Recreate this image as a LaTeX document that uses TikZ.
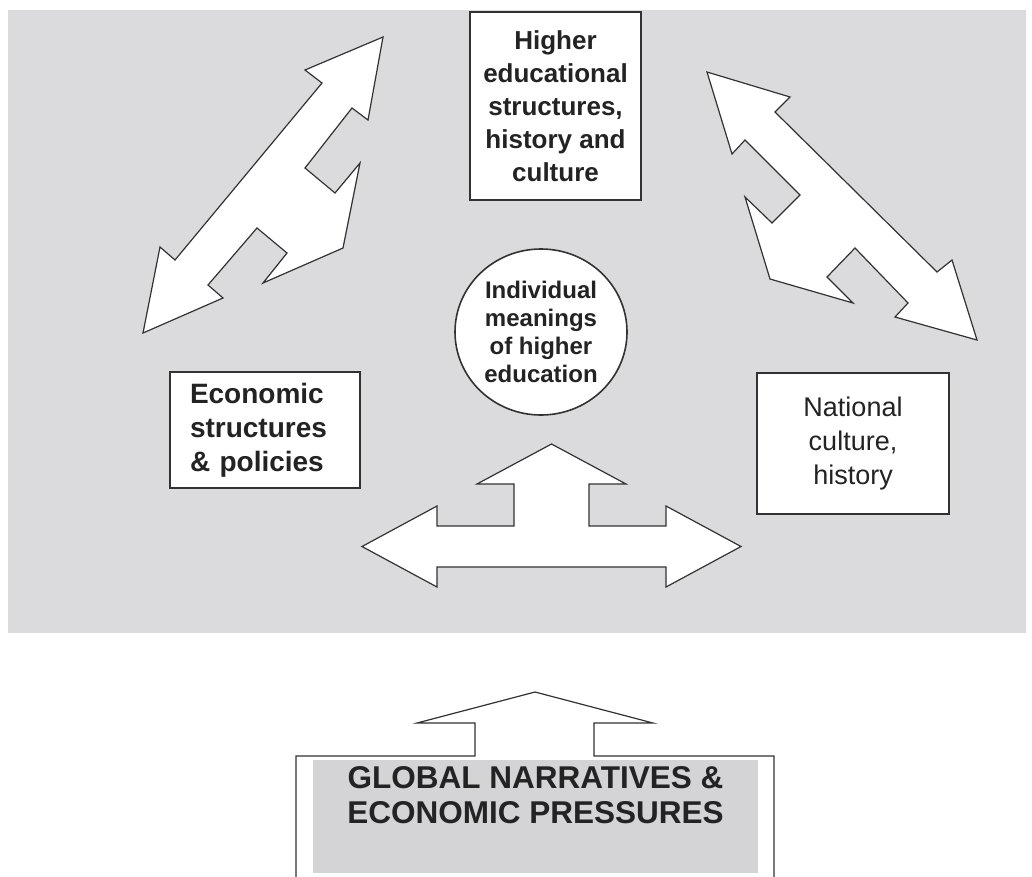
\documentclass[tikz,border=0pt]{standalone}
\usepackage{fontspec}
\setmainfont{Liberation Sans}
\usetikzlibrary{shapes.geometric}
\definecolor{panel}{RGB}{219,219,221}
\definecolor{panelb}{RGB}{212,212,214}
\definecolor{ink}{RGB}{35,35,35}
\definecolor{edge}{RGB}{50,50,50}

\begin{document}
\begin{tikzpicture}[x=1pt,y=-1pt,
  box/.style={draw=edge, line width=1.6pt, fill=white, text=ink, inner sep=0pt, align=center},
  blockarrow/.style={draw=edge, line width=1.2pt, fill=white, line join=miter},
]
\useasboundingbox[fill=white] (0,0) rectangle (1032,876);

% grey panel holding the three structures
\fill[panel] (8,10) rectangle (1026,633);

% double arrow between economic and higher-education structures
\draw[blockarrow] (383,37) -- (368,120) -- (352,108) -- (305,168) -- (335,193)
  -- (360,163) -- (343,248) -- (263,283) -- (287,253) -- (257,228) -- (208,285)
  -- (223,298) -- (143,333) -- (160,247) -- (175,260) -- (322,83) -- (305,70) -- cycle;

% double arrow between higher-education structures and national culture
\draw[blockarrow] (707,72) -- (790,97) -- (775,112) -- (937,272) -- (952,260)
  -- (977,340) -- (895,317) -- (908,303) -- (855,248) -- (827,277) -- (853,303)
  -- (770,279) -- (745,197) -- (772,223) -- (800,195) -- (745,140) -- (732,154) -- cycle;

% three-way arrow under the individual meanings
\draw[blockarrow] (551.5,444) -- (626,484) -- (589,484) -- (589,526) -- (666,526)
  -- (666,506) -- (741,546.5) -- (666,587) -- (666,567) -- (437,567) -- (437,587)
  -- (362,546.5) -- (437,506) -- (437,526) -- (514,526) -- (514,484) -- (477,484) -- cycle;

% boxes
\node[box, minimum width=171pt, minimum height=188pt,
      font=\fontsize{26}{33}\selectfont\bfseries] (hes) at (555.5,106)
  {Higher\\educational\\structures,\\history and\\culture};
\node[box, text width=150pt, inner xsep=20pt, minimum height=116pt, align=left,
      font=\fontsize{28}{34}\selectfont\bfseries] (eco) at (265,430)
  {Economic\\structures\\\& policies};
\node[box, minimum width=192pt, minimum height=141pt,
      font=\fontsize{27}{34}\selectfont] (nat) at (853,443.5)
  {National\\culture,\\history};
\node[box, ellipse, minimum width=172pt, minimum height=166pt,
      font=\fontsize{24}{28}\selectfont\bfseries] (ind) at (541,332)
  {Individual\\meanings\\of higher\\education};

% global pressures box with its upward arrow
\draw[blockarrow, fill=white] (296,877) -- (296,756) -- (475,756) -- (475,723)
  -- (417,723) -- (535,692) -- (653,723) -- (594,723) -- (594,756) -- (774,756) -- (774,877);
\fill[panelb] (313,760) rectangle (758,873);
\node[text=ink, align=center, inner sep=0pt,
      font=\fontsize{31.5}{35}\selectfont\bfseries] (glob) at (535.5,795.5)
  {GLOBAL NARRATIVES \&\\ECONOMIC PRESSURES};
\end{tikzpicture}
\end{document}
